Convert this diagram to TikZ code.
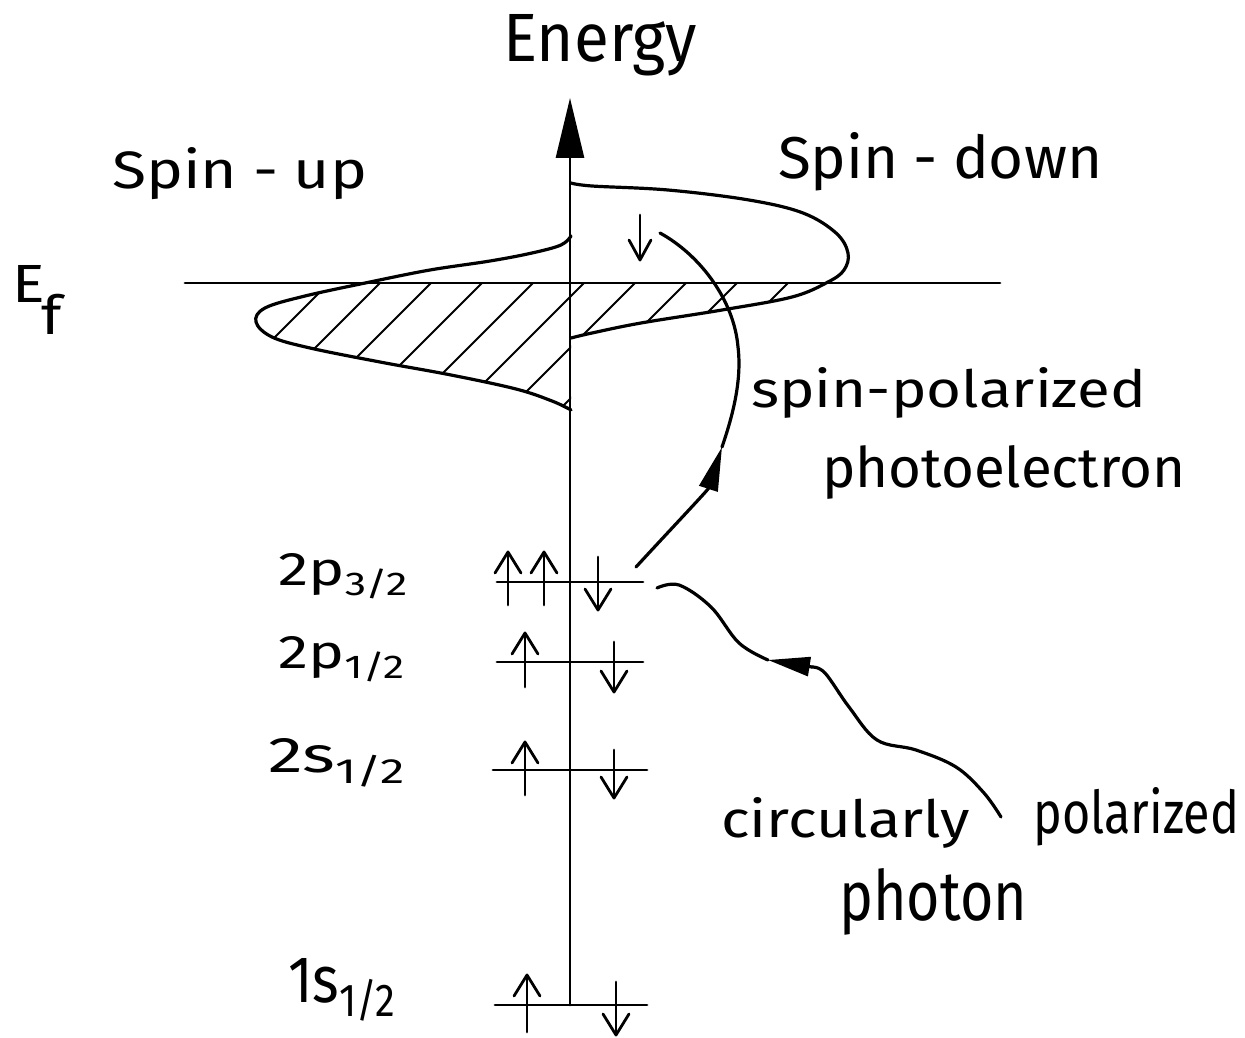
\documentclass[tikz,border=0pt]{standalone}
\usepackage{fontspec}
\setmainfont{Fira Sans}
\usetikzlibrary{arrows.meta}
\newcommand\handtxt[3]{\resizebox{#1}{#2}{#3}}
\newcommand\spinup[3]{%
  \draw[spin] (#1,#3) -- (#1,#2);
  \draw[spin] (#1-13,#2+21) -- (#1,#2) -- (#1+13,#2+21);}
\newcommand\spindown[3]{%
  \draw[spin] (#1,#2) -- (#1,#3);
  \draw[spin] (#1-13,#3-21) -- (#1,#3) -- (#1+13,#3-21);}
\begin{document}
\begin{tikzpicture}[x=1pt,y=-1pt,line cap=round,line join=round,
  ln/.style={line width=3.2pt},
  axisline/.style={line width=2.8pt},
  hatchline/.style={line width=1.8pt},
  spin/.style={line width=2.8pt},
  lbl/.style={inner sep=0pt,anchor=base west}]
\useasboundingbox (0,0) rectangle (1245,1038);

% hatching
\begin{scope}
  \clip (0,283) rectangle (1245,1038);
  \clip plot[smooth,tension=0.6] coordinates {(571,236) (561,245) (532,253) (490,261) (430,270) (370,282) (305,296) (265,308) (256,322) (272,337) (310,348) (380,362) (451,375) (516,389) (552,401) (571,410)} -- cycle
        plot[smooth,tension=0.6] coordinates {(571,183) (592,186) (668,190) (749,200) (803,213) (836,233) (848,253) (844,270) (828,282) (792,297) (722,310) (641,323) (592,333) (571,338)} -- cycle;
  \foreach \c in {612,663,714,765,816,867,918,969,1020,1071}
    \draw[hatchline] (\c-450,450) -- (\c-230,230);
\end{scope}

% DOS curves
\draw[ln] plot[smooth,tension=0.6] coordinates {(571,236) (561,245) (532,253) (490,261) (430,270) (370,282) (305,296) (265,308) (256,322) (272,337) (310,348) (380,362) (451,375) (516,389) (552,401) (571,410)};
\draw[ln] plot[smooth,tension=0.6] coordinates {(571,183) (592,186) (668,190) (749,200) (803,213) (836,233) (848,253) (844,270) (828,282) (792,297) (722,310) (641,323) (592,333) (571,338)};

% Fermi level
\coordinate (ef1) at (185,283);
\coordinate (ef2) at (1000,283);
\draw[axisline] (ef1) -- (ef2);

% energy axis
\coordinate (axB) at (570,1005);
\coordinate (axT) at (570,98);
\draw[axisline,-{Triangle[length=60pt,width=28pt]}] (axB) -- (axT);

% levels
\draw[axisline] (497,582) -- (643,582);
\draw[axisline] (497,662) -- (643,662);
\draw[axisline] (493,770) -- (647,770);
\draw[axisline] (495,1005) -- (647,1005);

% spins
\spinup{508}{552}{605}
\spinup{544}{552}{605}
\spindown{598}{557}{610}
\spinup{525}{633}{687}
\spindown{614}{642}{692}
\spinup{525}{742}{795}
\spindown{614}{750}{798}
\spinup{527}{975}{1032}
\spindown{616}{982}{1035}
\draw[spin] (640,215) -- (640,260);
\draw[spin] (629,240) -- (640,260) -- (651,240);

% photoelectron
\coordinate (peS) at (636,567);
\coordinate (peT) at (722,447);
\coordinate (peE) at (660,233);
\draw[ln,-{Triangle[length=44pt,width=19pt]}] (peS) .. controls (670,530) and (708,490) .. (peT);
\draw[ln] (peT) .. controls (733,415) and (742,380) .. (738,347) .. controls (734,300) and (700,255) .. (peE);

% photon
\coordinate (phS) at (657,588);
\coordinate (phT) at (768,660);
\coordinate (phE) at (1001,817);
\draw[ln] plot[smooth,tension=0.6] coordinates {(1001,817) (984,793) (956,767) (916,750) (877,740) (849,707) (825,673) (812,667)};
\draw[ln,-{Triangle[length=42pt,width=19pt]}] (812,667) -- (phT);
\draw[ln] plot[smooth,tension=0.6] coordinates {(768,660) (739,643) (711,607) (679,585) (657,588)};

% labels
\node[lbl] (energy) at (503,62) {\handtxt{194pt}{47pt}{Energy}};
\node[lbl] (spinup) at (112,188) {\handtxt{255pt}{41pt}{Spin\hspace{0.25em}-\hspace{0.25em}up}};
\node[lbl] (spindown) at (778,178) {\handtxt{324pt}{46pt}{Spin\hspace{0.25em}-\hspace{0.25em}down}};
\node[lbl] (ef) at (12,302) {\handtxt{50pt}{37pt}{E\kern-0.05em\raisebox{-0.6em}{f}}};
\node[lbl] (sp1) at (751,407) {\handtxt{395pt}{40pt}{spin-polarized}};
\node[lbl] (sp2) at (822,487) {\handtxt{363pt}{42pt}{photoelectron}};
\node[lbl] (l1) at (278,585) {\handtxt{132pt}{32pt}{2p\textsubscript{3/2}}};
\node[lbl] (l2) at (278,668) {\handtxt{129pt}{32pt}{2p\textsubscript{1/2}}};
\node[lbl] (l3) at (268,772) {\handtxt{140pt}{34pt}{2s\textsubscript{1/2}}};
\node[lbl] (l4) at (288,1002) {\handtxt{110pt}{44pt}{1s\textsubscript{1/2}}};
\node[lbl] (c1) at (721,837) {\handtxt{249pt}{40pt}{circularly}};
\node[lbl] (c2) at (1033,833) {\handtxt{206pt}{46pt}{polarized}};
\node[lbl] (c3) at (839,920) {\handtxt{188pt}{52pt}{photon}};
\end{tikzpicture}
\end{document}
